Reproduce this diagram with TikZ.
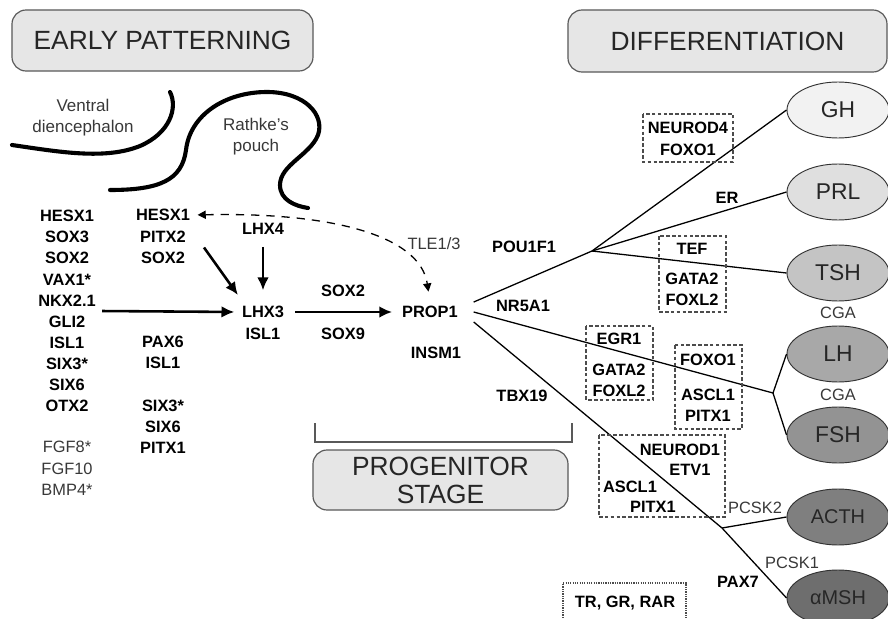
\documentclass[tikz,border=0pt]{standalone}
\usepackage{fontspec}
\setmainfont{Liberation Sans}
\usetikzlibrary{shapes.geometric,arrows.meta}

\definecolor{boxgray}{HTML}{E6E6E6}
\definecolor{ghgray}{HTML}{F2F2F2}
\definecolor{prlgray}{HTML}{DFDFDF}
\definecolor{tshgray}{HTML}{C4C4C4}
\definecolor{lhgray}{HTML}{A8A8A8}
\definecolor{fshgray}{HTML}{939393}
\definecolor{acthgray}{HTML}{7F7F7F}
\definecolor{mshgray}{HTML}{6E6E6E}

\begin{document}
\begin{tikzpicture}[x=0.03cm,y=-0.03cm,
  gene/.style={font=\fontsize{14}{18}\selectfont\bfseries,text=black,align=center},
  soft/.style={font=\fontsize{14}{18}\selectfont,text=black!78,align=center},
  stagebox/.style={draw=black!65,fill=boxgray,rounded corners=12pt,line width=1pt,
    font=\fontsize{22.5}{24}\selectfont,text=black!85,align=center},
  hormone/.style={ellipse,draw=black!80,line width=0.8pt,minimum width=3.06cm,
    minimum height=1.68cm,inner sep=0pt,font=\fontsize{19.5}{20}\selectfont,text=black!85},
  tissue/.style={line width=3.5pt,line cap=round},
  arrow/.style={line width=2.2pt,-{Latex[length=11pt,width=10pt]}},
  tree/.style={line width=1.1pt},
  tfbox/.style={draw=black!70,line width=0.9pt,dash pattern=on 3pt off 2pt}]
\useasboundingbox (0,0) rectangle (888,619);

% stage headers
\node[stagebox,minimum width=9.03cm,minimum height=1.83cm] (early) at (162.5,40.5) {EARLY PATTERNING};
\node[stagebox,minimum width=9.57cm,minimum height=1.86cm] (diff) at (727.5,41) {DIFFERENTIATION};
\node[stagebox,minimum width=7.65cm,minimum height=1.8cm] (prog) at (440.5,480) {PROGENITOR\\STAGE};
\draw[black!65,line width=1.2pt] (315,423) -- (315,442) -- (572,442) -- (572,423);

% tissues
\draw[tissue] (12,145) .. controls (60,152) and (105,160) .. (140,146)
  .. controls (170,133) and (178,108) .. (170,92);
\draw[tissue] (110,190) .. controls (160,190) and (182,180) .. (186,150)
  .. controls (190,115) and (225,92) .. (267,92)
  .. controls (305,92) and (325,115) .. (318,135)
  .. controls (310,155) and (280,165) .. (280,185)
  .. controls (280,200) and (295,206) .. (308,208);
\node[soft,font=\fontsize{14.5}{18}\selectfont] (vd) at (83,117.5) {Ventral\\diencephalon};
\node[soft,font=\fontsize{14.5}{18}\selectfont] (rp) at (256,137) {Rathke's\\pouch};

% early patterning genes
\node[gene] (col1) at (67,311) {HESX1\\SOX3\\SOX2\\VAX1*\\NKX2.1\\GLI2\\ISL1\\SIX3*\\SIX6\\OTX2};
\node[soft,font=\fontsize{14}{18.3}\selectfont] (fgf) at (67,468.5) {FGF8*\\FGF10\\BMP4*};
\node[gene] (hesx2) at (163,215) {HESX1};
\node[gene] (pitx2) at (163,247.5) {PITX2\\SOX2};
\node[gene] (pax6) at (163,352.5) {PAX6\\ISL1};
\node[gene] (six3) at (163,427) {SIX3*\\SIX6\\PITX1};
\node[gene] (lhx4) at (263,229) {LHX4};
\node[gene] (lhx3) at (263,312) {LHX3};
\node[gene] (isl1) at (263,334) {ISL1};
\node[gene] (prop1) at (430,312) {PROP1};
\node[gene] (insm1) at (436,353) {INSM1};
\node[soft] (tle) at (434,244) {TLE1/3};

\draw[arrow,shorten <=2pt,shorten >=3pt] (col1.east) -- (lhx3.west);
\draw[arrow] ([xshift=12pt]pitx2.east) -- ([yshift=6pt]lhx3.north west);
\draw[arrow,shorten <=7pt,shorten >=10pt] (lhx4.south) -- (lhx3.north);
\draw[arrow,shorten <=6pt,shorten >=5pt] (lhx3.east) --
  node[gene,above=9pt] (sox2l) {SOX2} node[gene,below=9pt] (sox9l) {SOX9} (prop1.west);
\draw[line width=1.1pt,dash pattern=on 7pt off 6pt,
  {Triangle[length=7pt,width=7pt]}-{Triangle[length=7pt,width=7pt]},
  shorten <=3pt,shorten >=9pt]
  (hesx2.east) .. controls (330,212) and (420,235) .. (prop1.north);

% lineages
\node[hormone,fill=ghgray] (gh) at (838,110) {GH};
\node[hormone,fill=prlgray] (prl) at (838,192) {PRL};
\node[hormone,fill=tshgray] (tsh) at (838,273) {TSH};
\node[hormone,fill=lhgray] (lh) at (838,354) {LH};
\node[hormone,fill=fshgray] (fsh) at (838,435) {FSH};
\node[hormone,fill=acthgray,font=\fontsize{17}{18}\selectfont] (acth) at (838,517) {ACTH};
\node[hormone,fill=mshgray,font=\fontsize{17}{18}\selectfont] (msh) at (838,598) {αMSH};
\node[soft] (cga1) at (838,313) {CGA};
\node[soft] (cga2) at (838,395) {CGA};

\coordinate (pouj) at (592,251);
\coordinate (nrj) at (773,393);
\coordinate (tbxj) at (722,528);
\draw[tree] ([xshift=10pt]prop1.north east) -- (pouj);
\draw[tree] (pouj) -- (gh.west);
\draw[tree] (pouj) -- (prl.west);
\draw[tree] (pouj) -- (tsh.west);
\draw[tree] ([xshift=10pt]prop1.east) -- (nrj);
\draw[tree] (nrj) -- (lh.west);
\draw[tree] (nrj) -- (fsh.west);
\draw[tree] ([xshift=10pt]prop1.south east) -- (tbxj) -- (msh.west);
\draw[tree] (tbxj) -- (acth.west);

\node[gene] (pou1f1) at (524,247) {POU1F1};
\node[gene] (nr5a1) at (523,306) {NR5A1};
\node[gene] (tbx19) at (522,396) {TBX19};
\node[gene] (er) at (727,198) {ER};
\node[gene] (pax7) at (738,582) {PAX7};
\node[soft] (pcsk2) at (755,508) {PCSK2};
\node[soft] (pcsk1) at (792,563) {PCSK1};

% factor boxes
\draw[tfbox] (643,114) rectangle (733,162);
\node[gene] (neurod4) at (688,128) {NEUROD4};
\node[gene] (foxo1a) at (688,150) {FOXO1};
\draw[tfbox] (659,236) rectangle (726,312);
\node[gene] (tef) at (692,249) {TEF};
\node[gene] (gata2a) at (692,279) {GATA2};
\node[gene] (foxl2a) at (692,300) {FOXL2};
\draw[tfbox] (586,326) rectangle (653,400);
\node[gene] (egr1) at (619,339) {EGR1};
\node[gene] (gata2b) at (619,370) {GATA2};
\node[gene] (foxl2b) at (619,391) {FOXL2};
\draw[tfbox] (675,345) rectangle (742,429);
\node[gene] (foxo1b) at (708,360) {FOXO1};
\node[gene] (ascl1a) at (708,395) {ASCL1};
\node[gene] (pitx1a) at (708,416) {PITX1};
\draw[tfbox] (599,435) rectangle (725,517);
\node[gene] (neurod1) at (680,450) {NEUROD1};
\node[gene] (etv1) at (690,470) {ETV1};
\node[gene] (ascl1b) at (630,487) {ASCL1};
\node[gene] (pitx1b) at (653,507) {PITX1};
\draw[black!70,line width=0.9pt,dash pattern=on 1pt off 1pt] (563,625) -- (563,583) -- (686,583) -- (686,625);
\node[gene] (nuclear) at (625,603) {TR, GR, RAR};
\end{tikzpicture}
\end{document}
